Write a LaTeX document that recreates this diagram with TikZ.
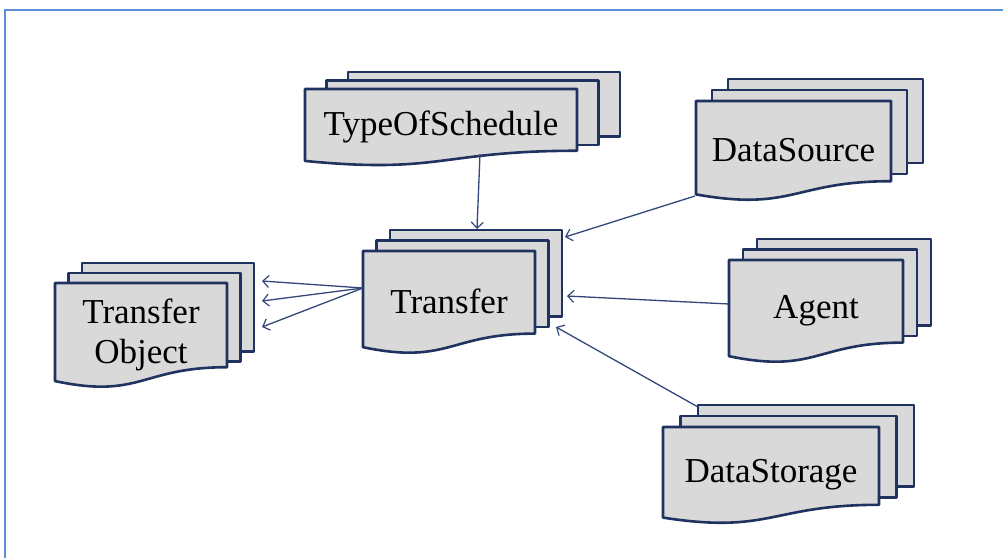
\documentclass[tikz,border=0pt]{standalone}
\usepackage{fontspec}
\setmainfont{Liberation Serif}
\usetikzlibrary{arrows.meta}
\definecolor{pageline}{HTML}{1F3260}
\definecolor{pagefill}{HTML}{D9D9D9}
\definecolor{linkline}{HTML}{34477A}
\definecolor{frameblue}{HTML}{5B8DDB}
\tikzset{
  docpage/.style={draw=pageline, fill=pagefill, line width=2.6pt, line join=round},
  doclabel/.style={font=\fontsize{35}{37}\selectfont, text=black, align=center, inner sep=0pt},
  link/.style={draw=linkline, line width=1.3pt, -{Straight Barb[length=6pt,width=12pt,line width=1.2pt]}},
}
% #1 name, #2 left, #3 top, #4 width, #5 height, #6 dx, #7 dy, #8 text
\newcommand\multidoc[8]{%
  \filldraw[docpage] ({#2+2*#6},{#3-2*#7}) rectangle ++(#4,{0.84*#5});
  \filldraw[docpage] ({#2+#6},{#3-#7}) rectangle ++(#4,{0.84*#5});
  \filldraw[docpage] (#2,#3) -- ++(#4,0) -- ++(0,{0.802*#5})
    .. controls ({#2+0.5*#4},{#3+0.802*#5}) and ({#2+0.5*#4},{#3+1.107*#5}) .. ({#2},{#3+0.934*#5}) -- cycle;
  \node[doclabel] (#1) at ({#2+0.5*#4},{#3+0.49*#5}) {#8};
}
\begin{document}
\begin{tikzpicture}[x=1pt,y=-1pt]
\useasboundingbox (0,0) rectangle (1003,558);
\fill[white] (0,0) rectangle (1003,558);
\draw[frameblue, line width=2pt] (5,558) -- (5,10) -- (1003,10);

\multidoc{tos}{305}{89}{272}{77}{21.5}{8.5}{TypeOfSchedule}
\multidoc{dsrc}{696}{101}{195}{100}{16}{11}{DataSource}
\multidoc{trans}{363}{251}{172}{103}{13.5}{10.5}{Transfer}
\multidoc{agent}{729}{260}{174}{103}{14}{10.5}{Agent}
\multidoc{dstore}{663}{427}{216}{97}{17.5}{11}{DataStorage}
\multidoc{tobj}{55}{283}{172}{105}{13.5}{10}{Transfer\\[3pt]Object}

% connector ends on the page outlines
\coordinate (tos-out) at (480,154);
\coordinate (trans-top) at (477,229);
\coordinate (dsrc-out) at (695,196);
\coordinate (trans-ne) at (565,237);
\coordinate (agent-out) at (729,304);
\coordinate (trans-e) at (567,296);
\coordinate (dstore-out) at (698,407);
\coordinate (trans-se) at (556,327);
\coordinate (trans-out) at (363,288);
\coordinate (tobj-a) at (262,281);
\coordinate (tobj-b) at (262,301);
\coordinate (tobj-c) at (262,327);

\draw[link] (tos-out) -- (trans-top);
\draw[link] (dsrc-out) -- (trans-ne);
\draw[link] (agent-out) -- (trans-e);
\draw[link] (dstore-out) -- (trans-se);
\draw[link] (trans-out) -- (tobj-a);
\draw[link] (trans-out) -- (tobj-b);
\draw[link] (trans-out) -- (tobj-c);
\end{tikzpicture}
\end{document}
